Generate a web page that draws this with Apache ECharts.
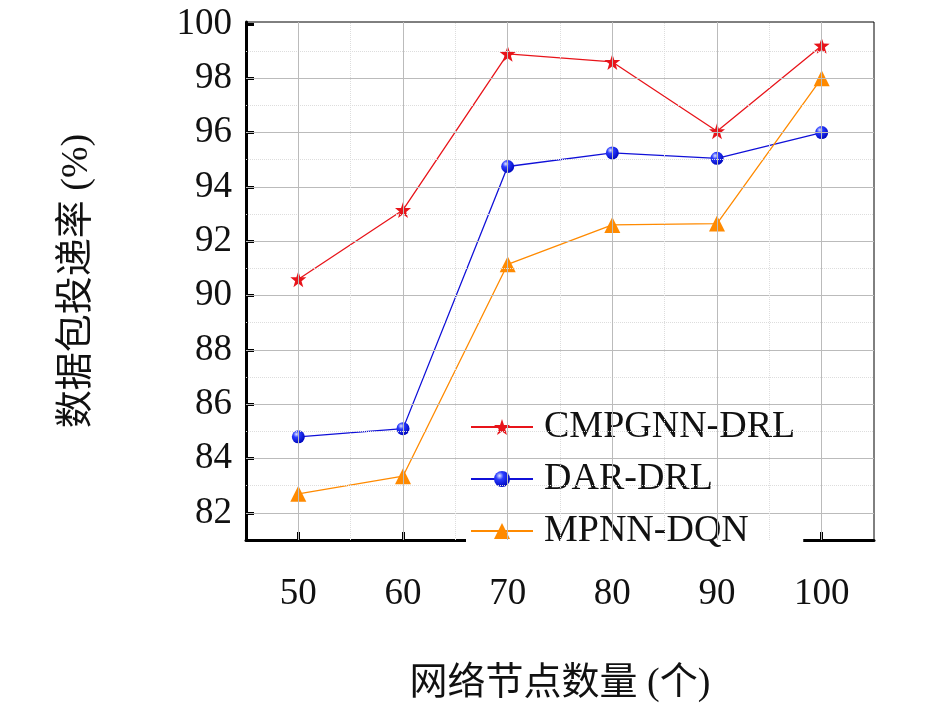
<!DOCTYPE html>
<html>
<head>
<meta charset="UTF-8">
<script src="https://cdn.jsdelivr.net/npm/echarts@6/dist/echarts.min.js"></script>
<style>html,body{margin:0;background:#fff}#c{width:945px;height:708px}</style>
</head>
<body>
<div id="c"></div>
<script>
const nodes = [50, 60, 70, 80, 90, 100];
const cmpgnn = [90.6, 93.15, 98.9, 98.6, 96.05, 99.2];
const dar = [84.8, 85.1, 94.75, 95.25, 95.05, 96.0];
const mpnn = [82.7, 83.35, 91.15, 92.6, 92.65, 98.0];
const yTicks = [82, 84, 86, 88, 90, 92, 94, 96, 98, 100];

const font = '"Liberation Serif", "Noto Sans CJK SC", serif';
const chart = echarts.init(document.getElementById('c'));
const pts = arr => nodes.map((x, i) => [x, arr[i]]);
const star = 'path://M0,-10L2.35,-3.24L9.51,-3.09L3.8,1.24L5.88,8.09L0,4L-5.88,8.09L-3.8,1.24L-9.51,-3.09L-2.35,-3.24Z';
const major = {color: '#bbb', width: 1, type: 'solid'};
const minor = {color: '#ddd', width: 1, type: 'dotted'};

chart.setOption({
  animation: false,
  grid: {left: 246, right: 71, top: 22, bottom: 150, show: true, borderColor: '#000', borderWidth: 1},
  xAxis: {
    type: 'value', min: 45, max: 105,
    name: '网络节点数量 (个)', nameLocation: 'middle', nameGap: 125,
    nameTextStyle: {fontFamily: font, fontSize: 38, color: '#111'},
    axisLine: {lineStyle: {color: '#000', width: 3}},
    axisTick: {inside: true, length: 8, lineStyle: {width: 3, color: '#000'}, customValues: nodes},
    axisLabel: {fontFamily: font, fontSize: 37, color: '#111', margin: 36, customValues: nodes},
    splitLine: {show: false}
  },
  yAxis: {
    type: 'value', min: 81, max: 100.07,
    name: '数据包投递率 (%)', nameLocation: 'middle', nameGap: 150, nameRotate: 90,
    nameTextStyle: {fontFamily: font, fontSize: 38, color: '#111'},
    axisLine: {show: true, lineStyle: {color: '#000', width: 3}},
    axisTick: {inside: true, length: 8, lineStyle: {width: 3, color: '#000'}, customValues: yTicks},
    axisLabel: {fontFamily: font, fontSize: 37, color: '#111', margin: 14, customValues: yTicks},
    splitLine: {show: false}
  },
  legend: {
    orient: 'vertical', left: 466, top: 404, itemGap: 14,
    itemWidth: 62, itemHeight: 20,
    backgroundColor: '#fff', padding: [4, 8, 4, 4],
    textStyle: {fontFamily: font, fontSize: 38, color: '#111', padding: [0, 0, 0, 6]},
    data: ['CMPGNN-DRL', 'DAR-DRL', 'MPNN-DQN']
  },
  series: [
    {name: '_grid', type: 'line', data: [], silent: true,
      markLine: {silent: true, symbol: 'none', label: {show: false},
        data: yTicks.filter(v => v < 100).map(v => ({yAxis: v, lineStyle: major}))
          .concat([83, 85, 87, 89, 91, 93, 95, 97, 99].map(v => ({yAxis: v, lineStyle: minor})))
          .concat(nodes.map(v => ({xAxis: v, lineStyle: major})))
          .concat([55, 65, 75, 85, 95].map(v => ({xAxis: v, lineStyle: minor})))}},
    {name: 'CMPGNN-DRL', type: 'line', data: pts(cmpgnn), symbol: star, symbolSize: 16,
      lineStyle: {color: '#e8141a', width: 1.3}, itemStyle: {color: '#e8141a'}},
    {name: 'DAR-DRL', type: 'line', data: pts(dar), symbol: 'circle', symbolSize: 13,
      lineStyle: {color: '#1010d8', width: 1.3},
      itemStyle: {color: new echarts.graphic.RadialGradient(0.35, 0.3, 0.7, [
        {offset: 0, color: '#e0e6ff'}, {offset: 0.35, color: '#2a3cff'}, {offset: 1, color: '#0008c0'}])}},
    {name: 'MPNN-DQN', type: 'line', data: pts(mpnn), symbol: 'triangle', symbolSize: 16,
      lineStyle: {color: '#ff8a00', width: 1.3}, itemStyle: {color: '#ff8a00'}}
  ]
});
</script>
</body>
</html>
